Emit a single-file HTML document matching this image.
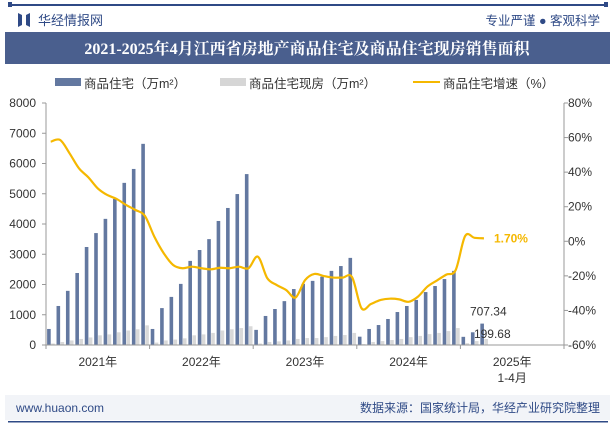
<!DOCTYPE html>
<html><head><meta charset="utf-8"><style>
body{margin:0;width:615px;height:427px;overflow:hidden;background:#fff;font-family:"Liberation Sans","Noto Sans CJK SC",sans-serif}
svg{display:block}
</style></head><body>
<svg width="615" height="427">
<rect x="8" y="4" width="600" height="2" fill="#2f4a86"/>
<rect x="8" y="2" width="4" height="5" fill="#2f4a86"/><rect x="604" y="2" width="4" height="5" fill="#2f4a86"/>
<g><path d="M18 13 L22 15 L22 25 L18 27Z M26 15 L30 13 L30 27 L26 25Z" fill="#2f4a86"/>
<text x="38" y="25" font-size="13" fill="#2f4a86">华经情报网</text></g>
<text x="600" y="25" font-size="12.5" fill="#2f4a86" text-anchor="end">专业严谨 ● 客观科学</text>
<rect x="5" y="32" width="605" height="32" fill="#4a5f8e"/>
<text x="307" y="54" font-size="16" font-weight="bold" fill="#fff" text-anchor="middle" font-family="'Liberation Serif','Noto Serif CJK SC',serif">2021-2025年4月江西省房地产商品住宅及商品住宅现房销售面积</text>
<g font-size="12.5" fill="#333">
<rect x="55" y="78" width="26" height="8" fill="#6378a0"/><text x="84" y="88">商品住宅（万m²）</text>
<rect x="220" y="78" width="26" height="8" fill="#d6d6d6"/><text x="249" y="88">商品住宅现房（万m²）</text>
<rect x="413" y="81" width="27" height="2" fill="#f5b800"/><text x="443" y="88">商品住宅增速（%）</text>
</g>
<g id="plot"></g>
<rect x="5" y="395" width="605" height="25" fill="#f2f4f8"/>
<text x="16" y="412" font-size="12" fill="#2f4a86">www.huaon.com</text>
<text x="600" y="412" font-size="12" fill="#2f4a86" text-anchor="end">数据来源：国家统计局，华经产业研究院整理</text>
<rect x="8" y="421" width="600" height="1.5" fill="#2f4a86"/>
</svg>
<script>
const years=["2021年","2022年","2023年","2024年","2025年"];
const housing=[530,1290,1790,2380,3240,3700,4170,4830,5360,5820,6650, 530,1220,1590,2020,2780,3140,3500,4100,4530,4990,5650, 500,960,1190,1450,1850,2020,2120,2260,2450,2610,2880, 275,530,660,860,1090,1290,1490,1750,1950,2180,2450, 270,420,707.34];
const existing=[50,100,150,200,250,320,350,420,480,520,650, 80,150,180,220,320,350,400,480,520,560,620, 50,100,120,150,200,230,230,260,300,330,400, 30,100,130,165,200,260,300,360,400,460,560, 60,130,199.68];
const growth=[57.6,58.6,50.9,42.2,37,30.6,26.8,24.5,21,18.1,14.7, 2.7,-6.9,-13.7,-15.6,-14.7,-15.6,-16.2,-15.3,-15.6,-14.7,-15.6, -8.9,-21.4,-25.3,-28.2,-32.5,-22.5,-18.9,-20.1,-21,-21,-20.8, -38.7,-36.3,-34,-33.2,-33.6,-35,-32,-26.2,-22.7,-19.3,-16.6, 3.0,2.0,1.70];
const leftTicks=[0,1000,2000,3000,4000,5000,6000,7000,8000];
const rightTicks=[-60,-40,-20,0,20,40,60,80];
const NS="http://www.w3.org/2000/svg";
const X0=46,X1=564,Y0=345,Y1=103,slots=55,sw=(X1-X0)/slots;
const xs=i=>X0+sw*(i+0.5);
const yl=v=>Y0-(v/8000)*(Y0-Y1);
const yr=v=>Y0-((v+60)/140)*(Y0-Y1);
const g=document.getElementById('plot');
function mk(t,a){const e=document.createElementNS(NS,t);for(const k in a)e.setAttribute(k,a[k]);g.appendChild(e);return e;}
function idx(i){const y=Math.floor(i/11);return y*11+(i%11);}
housing.forEach((v,i)=>{const x=xs(idx(i));
const r=mk('rect',{x:x-3.6,y:yl(v),width:3.6,height:Y0-yl(v),fill:'#6378a0'});

});
existing.forEach((v,i)=>{const x=xs(idx(i));
const r=mk('rect',{x:x+0.4,y:yl(v),width:3.6,height:Y0-yl(v),fill:'#d9d9d9'});

});
// line smooth
const pts=growth.map((v,i)=>[xs(idx(i)),yr(v)]);
let d='M'+pts[0][0]+','+pts[0][1];
for(let i=0;i<pts.length-1;i++){const p0=pts[i-1]||pts[i],p1=pts[i],p2=pts[i+1],p3=pts[i+2]||p2;
d+=' C'+(p1[0]+(p2[0]-p0[0])/6)+','+(p1[1]+(p2[1]-p0[1])/6)+' '+(p2[0]-(p3[0]-p1[0])/6)+','+(p2[1]-(p3[1]-p1[1])/6)+' '+p2[0]+','+p2[1];}
const ln=mk('path',{d:d,fill:'none',stroke:'#f5b800','stroke-width':2.2});


// axes
const ax=mk('line',{x1:X0,y1:Y0,x2:X1,y2:Y0,stroke:'#999'});


const la=mk('line',{x1:X0,y1:Y1,x2:X0,y2:Y0,stroke:'#999'});


const ra=mk('line',{x1:X1,y1:Y1,x2:X1,y2:Y0,stroke:'#999'});


leftTicks.forEach(v=>{mk('line',{x1:X0-4,y1:yl(v),x2:X0,y2:yl(v),stroke:'#999'});
const t=mk('text',{x:X0-10,y:yl(v)+4,'font-size':12,fill:'#333','text-anchor':'end'});t.textContent=v;

});
rightTicks.forEach(v=>{mk('line',{x1:X1,y1:yr(v),x2:X1+4,y2:yr(v),stroke:'#999'});
const t=mk('text',{x:X1+4,y:yr(v)+4,'font-size':12,fill:'#333'});t.textContent=v+'%';

});
years.forEach((y,i)=>{const x=X0+i*11*sw;mk('line',{x1:x,y1:Y0,x2:x,y2:Y0+4,stroke:'#999'});
const t=mk('text',{x:x+5.5*sw,y:366,'font-size':12,fill:'#333','text-anchor':'middle'});t.textContent=y;

});
mk('line',{x1:X1,y1:Y0,x2:X1,y2:Y0+4,stroke:'#999'});
const t2=mk('text',{x:X0+49.5*sw,y:382,'font-size':12,fill:'#333','text-anchor':'middle'});t2.textContent='1-4月';


const n=housing.length-1,xl=xs(idx(n));
const a1=mk('text',{x:xl-14,y:yl(housing[n])-8,'font-size':12,fill:'#333'});a1.textContent=housing[n].toFixed(2);


const a2=mk('text',{x:xl-10,y:yl(existing[n])-1,'font-size':12,fill:'#333'});a2.textContent=existing[n].toFixed(2);


const a3=mk('text',{x:xl+10,y:yr(growth[n])+4,'font-size':12,'font-weight':'bold',fill:'#f5b800'});a3.textContent=growth[n].toFixed(2)+'%';


</script>
</body></html>
